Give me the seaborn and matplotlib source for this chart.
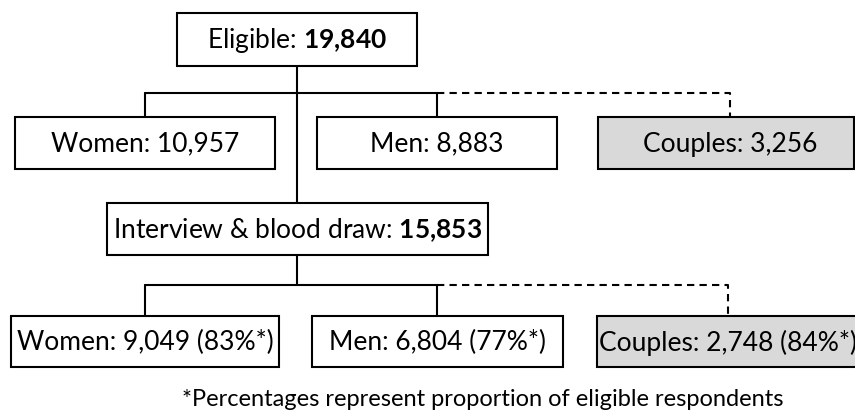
import matplotlib.pyplot as plt
import seaborn as sns
from matplotlib.patches import Rectangle

# Flowchart values
stages = ["Eligible", "Interview & blood draw"]
stage_totals = [19840, 15853]
groups = ["Women", "Men", "Couples"]
eligible_counts = [10957, 8883, 3256]
interviewed_counts = [9049, 6804, 2748]
response_pct = [83, 77, 84]
footnote = "*Percentages represent proportion of eligible respondents"

sns.set_theme(style="white")
plt.rcParams['font.family'] = ['Lato', 'DejaVu Sans']
plt.rcParams['mathtext.fontset'] = 'custom'
plt.rcParams['mathtext.rm'] = 'Lato'
plt.rcParams['mathtext.bf'] = 'Lato:bold'

# layout in pixel coordinates (x0, y0, x1, y1)
stage_boxes = [(177, 13, 417, 66), (107, 203, 488, 255)]
group_boxes = [
    [(15, 117, 275, 169), (317, 117, 557, 169), (598, 117, 854, 169)],
    [(11, 316, 279, 367), (312, 316, 563, 367), (597, 316, 880, 367)],
]
group_x = [[145, 437, 730], [145, 437, 728]]
branch_y = [93, 285]
trunk_x = 297
fill_colors = ['white', 'white', '#d9d9d9']
fs = 19
lw = 1.5

fig = plt.figure(figsize=(8.55, 4.15), dpi=100)
ax = fig.add_axes([0, 0, 1, 1])
ax.set_xlim(0, 855)
ax.set_ylim(415, 0)
ax.axis('off')


def draw_box(box, label, color='white', tx=None):
    x0, y0, x1, y1 = box
    ax.add_patch(Rectangle((x0, y0), x1 - x0, y1 - y0, facecolor=color,
                           edgecolor='black', lw=lw, zorder=2))
    if tx is None:
        tx = (x0 + x1) / 2
    ax.text(tx, (y0 + y1) / 2 + 1, label, ha='center', va='center',
            fontsize=fs, color='black', zorder=3)


def fmt_bold(n):
    return r"$\mathbf{" + f"{n:,}".replace(",", "{,}") + "}$"


# main trunk
ax.plot([trunk_x, trunk_x], [stage_boxes[0][3], stage_boxes[1][1]], color='black', lw=lw, zorder=1)
ax.plot([trunk_x, trunk_x], [stage_boxes[1][3], branch_y[1]], color='black', lw=lw, zorder=1)

for row in range(2):
    by = branch_y[row]
    xs = group_x[row]
    top = group_boxes[row][0][1]
    ax.plot([xs[0], xs[1]], [by, by], color='black', lw=lw, zorder=1)
    ax.plot([xs[0], xs[0]], [by, top], color='black', lw=lw, zorder=1)
    ax.plot([xs[1], xs[1]], [by, top], color='black', lw=lw, zorder=1)
    ax.plot([xs[1], xs[2], xs[2]], [by, by, top], color='black', lw=lw,
            linestyle=(0, (3.5, 2.5)), zorder=1)

for i, stage in enumerate(stages):
    draw_box(stage_boxes[i], f"{stage}: " + fmt_bold(stage_totals[i]))

for j, g in enumerate(groups):
    draw_box(group_boxes[0][j], f"{g}: {eligible_counts[j]:,}", fill_colors[j], group_x[0][j])
    draw_box(group_boxes[1][j], f"{g}: {interviewed_counts[j]:,} ({response_pct[j]}%*)",
             fill_colors[j], group_x[1][j])

ax.text(483, 399, footnote, ha='center', va='center', fontsize=17, color='black')

fig.savefig('out.png', dpi=100)
